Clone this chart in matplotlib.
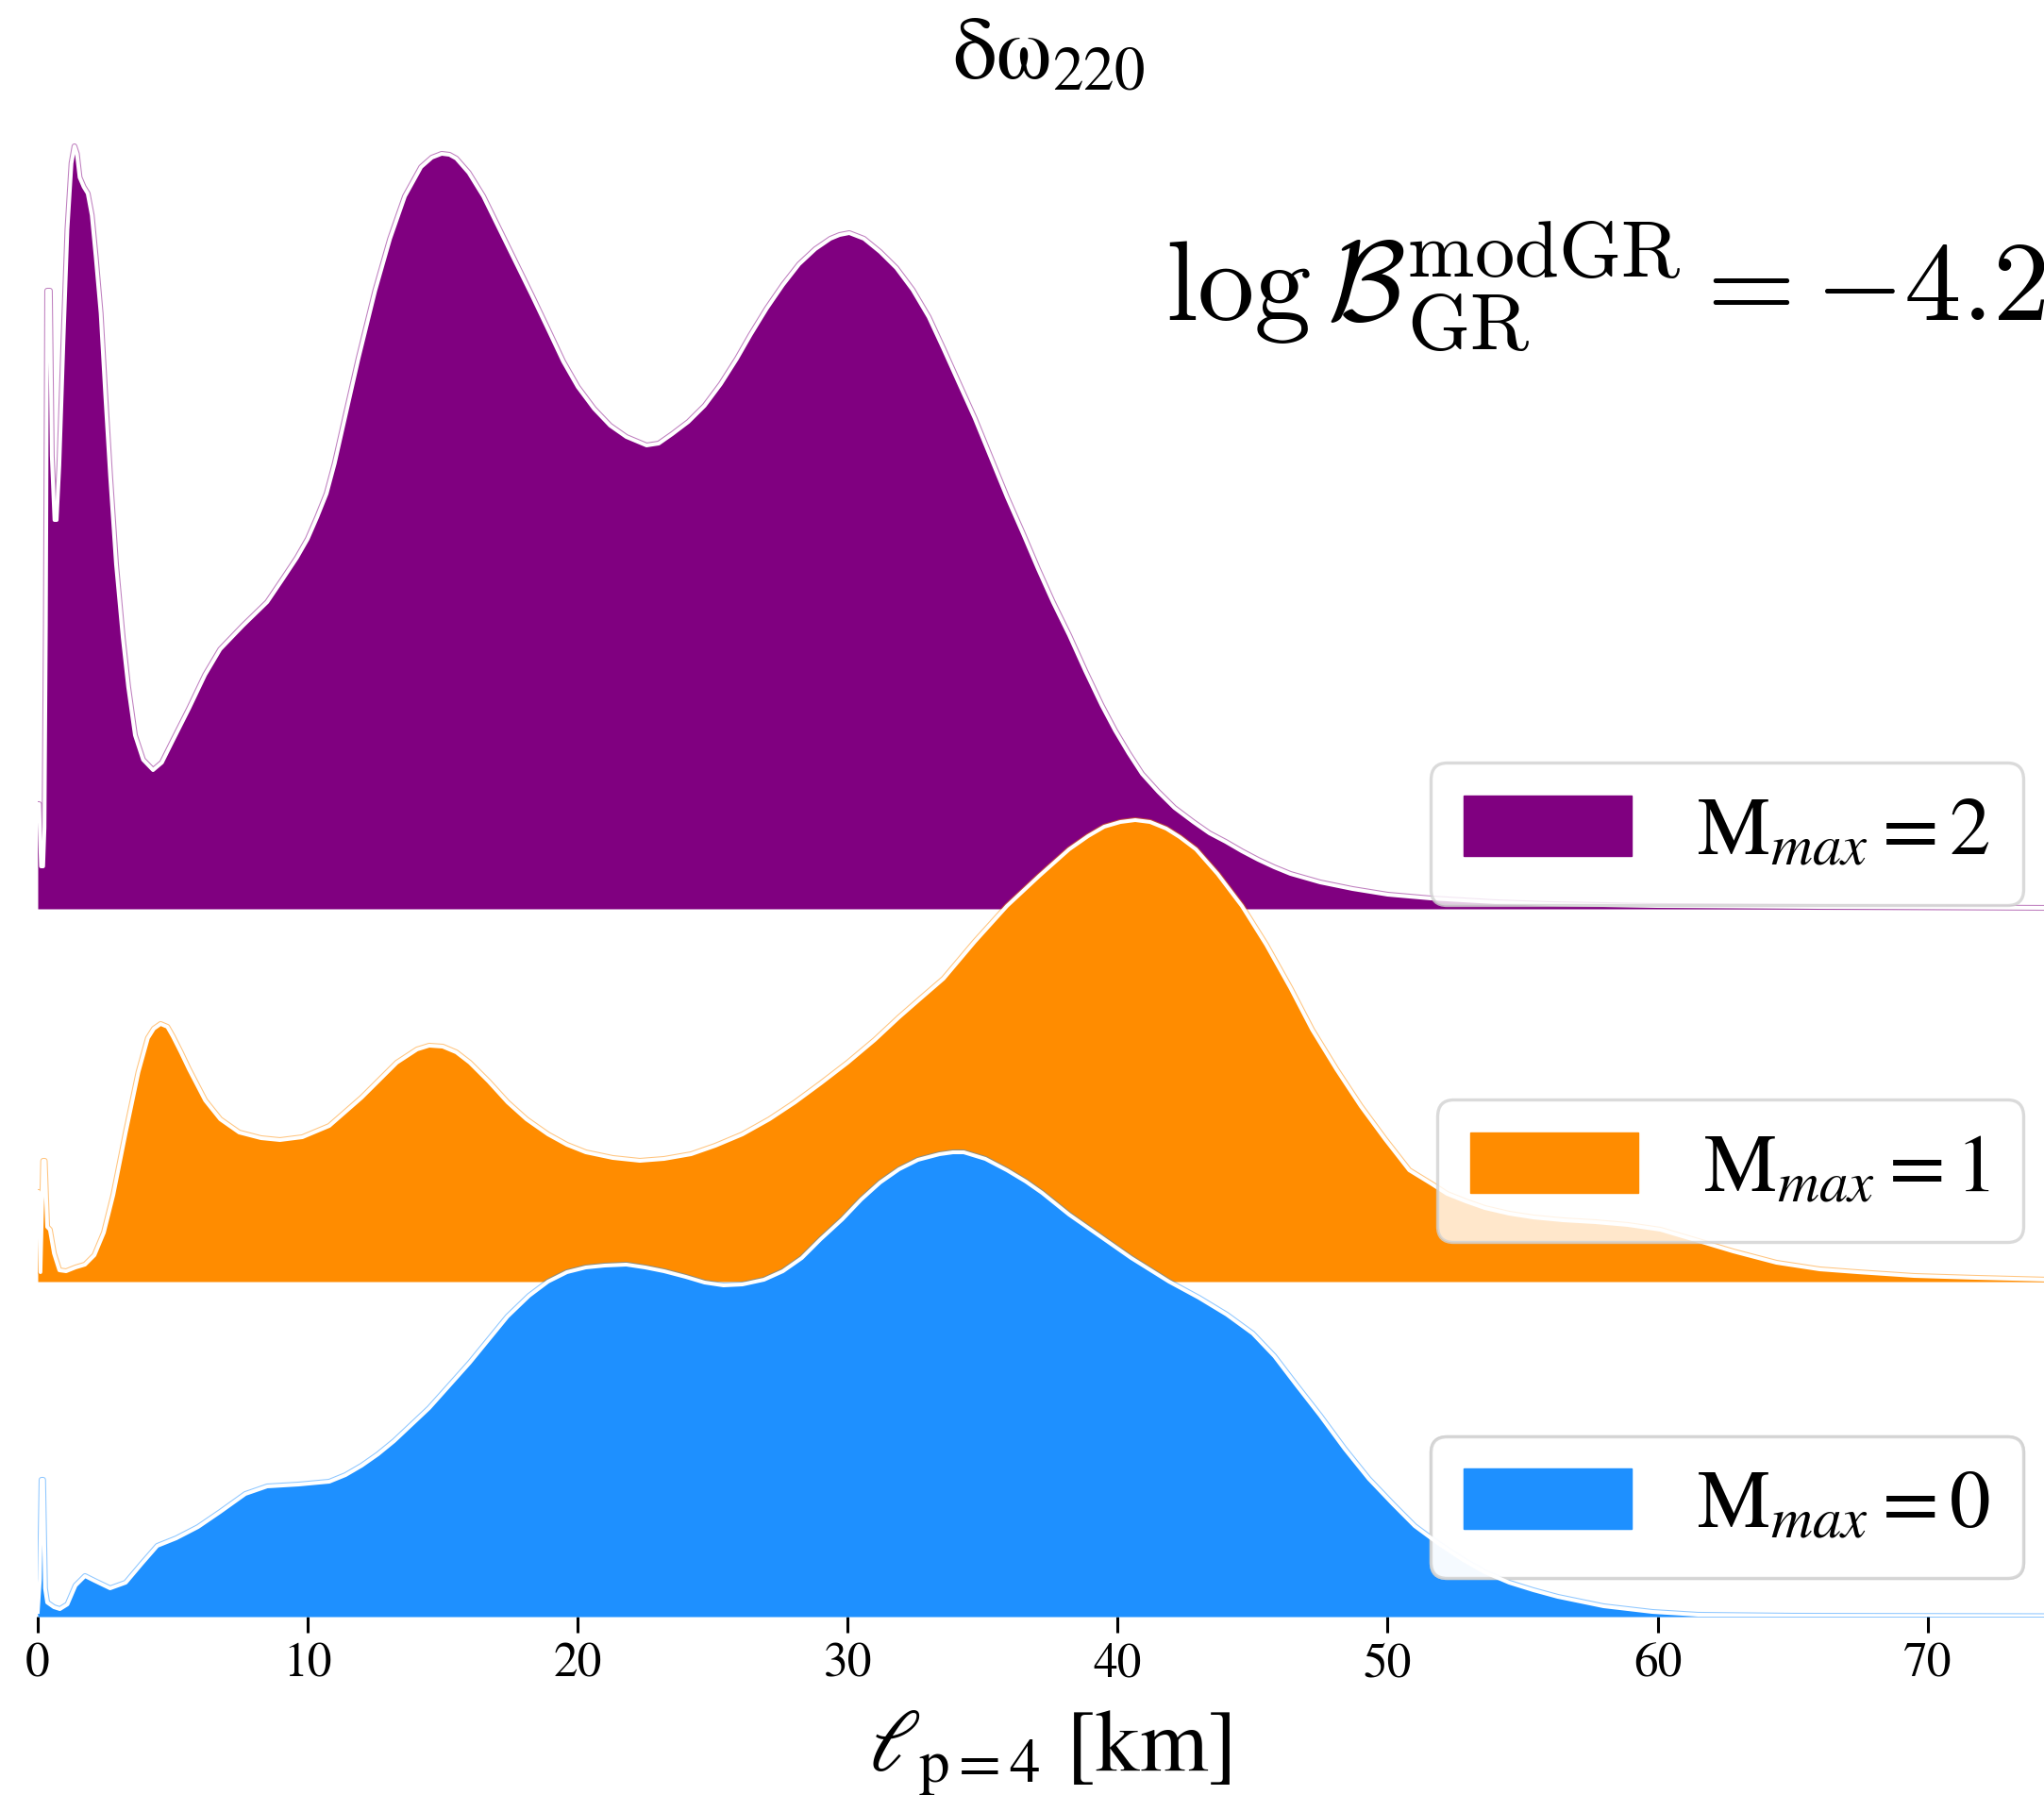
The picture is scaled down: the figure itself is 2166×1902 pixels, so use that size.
import matplotlib
matplotlib.use("Agg")
import matplotlib.pyplot as plt
from matplotlib.patches import Patch

plt.rcParams['font.family'] = ['STIXGeneral', 'DejaVu Serif']
plt.rcParams['mathtext.fontset'] = 'stix'

# posterior densities of l_{p=4} [km] (arbitrary units)
x_m2 = [0.0, 0.05, 0.12, 0.2, 0.25, 0.30, 0.35, 0.45, 0.52, 0.62, 0.70, 0.8, 0.95, 1.1, 1.25, 1.36, 1.45,
        1.55, 1.7, 1.85, 2.0, 2.15, 2.33, 2.5, 2.68, 2.9, 3.15, 3.35, 3.6, 3.9, 4.27, 4.6, 5.0, 5.6, 6.2,
        6.76, 7.6, 8.5, 9.09, 9.6, 10.0, 10.35, 10.7, 11.0, 11.3, 11.88, 12.5, 13.05, 13.6, 14.2, 14.6,
        14.96, 15.25, 15.5, 15.96, 16.5, 17.1, 17.7, 18.3, 18.9, 19.46, 20.0, 20.6, 21.2, 21.8, 22.55,
        23.0, 23.5, 24.1, 24.7, 25.3, 25.9, 26.4, 27.0, 27.6, 28.2, 28.8, 29.36, 29.7, 30.06, 30.6, 31.2,
        31.8, 32.4, 33.0, 33.55, 34.1, 34.7, 35.3, 35.9, 36.5, 37.05, 37.6, 38.2, 38.8, 39.4, 39.9, 40.4,
        40.9, 41.5, 42.1, 42.8, 43.4, 44.0, 44.6, 45.2, 45.8, 46.4, 47.5, 48.7, 50.0, 51.6, 54.0, 56.0,
        60.0, 66.0, 74.5]
y_m2 = [111, 111, 45, 45, 86, 300, 655, 655, 480, 412, 412, 470, 600, 720, 790, 808, 800,
        775, 765, 758, 735, 690, 631, 545, 459, 365, 287, 235, 184, 158, 147, 155, 178, 212, 248,
        275, 300, 325, 350, 372, 392, 415, 440, 472, 510, 583, 655, 710, 755, 786, 796,
        800, 799, 795, 780, 755, 720, 685, 650, 614, 580, 553, 530, 512, 500, 491,
        493, 503, 516, 533, 556, 583, 608, 636, 661, 683, 699, 710, 714, 716, 710, 696,
        679, 656, 627, 593, 558, 520, 478, 436, 397, 360, 325, 290, 252, 216, 189, 165,
        143, 124, 107, 92, 80, 71, 61, 52, 44, 37, 28, 21, 15, 11, 7, 5,
        3, 2, 1]

x_m1 = [0.0, 0.03, 0.1, 0.2, 0.26, 0.35, 0.45, 0.6, 0.8, 1.05, 1.4, 1.75, 2.1, 2.45, 2.8, 3.26, 3.73,
        4.08, 4.3, 4.55, 4.8, 5.0, 5.3, 5.6, 6.2, 6.76, 7.46, 8.27, 8.97, 9.8, 10.8, 12.0, 13.3, 14.05,
        14.5, 15.0, 15.5, 16.0, 16.7, 17.4, 18.1, 18.9, 19.6, 20.3, 21.3, 22.3, 23.2, 24.2, 25.1, 26.1,
        27.1, 28.05, 29.0, 30.0, 31.0, 31.9, 32.7, 33.55, 34.7, 35.9, 37.1, 38.2, 38.9, 39.5, 40.1, 40.65,
        41.2, 41.8, 42.3, 42.9, 43.7, 44.6, 45.5, 46.4, 47.2, 48.1, 49.0, 49.9, 50.8, 51.6, 52.2, 52.9,
        53.6, 54.5, 55.4, 56.5, 57.7, 58.9, 60.1, 61.4, 62.8, 64.4, 66.0, 67.4, 69.5, 71.8, 74.5]
y_m1 = [95, 95, 10, 128, 128, 58, 55, 30, 12, 11, 15, 18, 28, 52, 92, 158, 222,
        258, 268, 273, 270, 260, 243, 225, 192, 172, 158, 152, 150, 153, 165, 195, 232, 246,
        250, 249, 243, 232, 212, 190, 172, 156, 145, 137, 131, 128, 130, 135, 144, 156,
        172, 190, 210, 232, 256, 280, 300, 321, 360, 398, 430, 458, 472, 482, 487, 489,
        487, 480, 471, 458, 432, 398, 357, 311, 267, 225, 186, 151, 118, 104, 93, 85,
        78, 72, 68, 65, 63, 60, 55, 44, 32, 20, 13, 10, 6, 4, 2]

x_m0 = [0.0, 0.08, 0.14, 0.2, 0.27, 0.35, 0.6, 0.82, 1.1, 1.4, 1.75, 2.1, 2.68, 3.26, 3.85, 4.43, 5.13,
        5.94, 6.76, 7.69, 8.5, 9.67, 10.8, 11.4, 12.0, 12.6, 13.2, 14.5, 16.0, 17.4, 18.2, 18.9, 19.6,
        20.3, 21.0, 21.8, 22.5, 23.2, 24.0, 24.7, 25.4, 26.1, 26.9, 27.6, 28.3, 29.0, 29.8, 30.5, 31.2,
        31.9, 32.6, 33.4, 33.9, 34.3, 35.1, 35.9, 36.6, 37.2, 38.2, 39.4, 40.5, 41.9, 43.0, 44.04, 45.0,
        45.8, 46.6, 47.5, 48.4, 49.3, 50.2, 51.0, 51.9, 52.8, 53.6, 54.5, 55.4, 56.3, 58.0, 59.8, 61.5,
        65.0, 74.5]
y_m0 = [5, 40, 145, 145, 30, 15, 10, 8, 13, 33, 43, 38, 30, 36, 56, 75, 83,
        95, 111, 130, 138, 140, 143, 150, 160, 172, 186, 221, 269, 318, 340, 355, 365,
        370, 372, 373, 370, 366, 360, 354, 351, 352, 357, 366, 380, 400, 421, 442, 460,
        474, 484, 490, 492, 492, 485, 473, 461, 449, 426, 402, 380, 355, 338, 320, 300,
        276, 246, 213, 178, 146, 119, 96, 77, 60, 47, 36, 28, 21, 11, 5, 2,
        1, 0.5]

labels = [r'$\mathrm{M}_{max}=2$', r'$\mathrm{M}_{max}=1$', r'$\mathrm{M}_{max}=0$']
colors = ['purple', 'darkorange', 'dodgerblue']
offsets = [750, 355, 0]
legend_y = [0.4402, 0.2318, 0.0239]
title = 'δω$_{220}$'
bayes_text = r'$\log\mathcal{B}^{\rm modGR}_{\rm GR} = -4.2$'

W, H = 2166, 1902
fig = plt.figure(figsize=(W / 100, H / 100), dpi=100)
ax = fig.add_axes([40 / W, 189 / H, 1 - 40 / W, 1713 / H])
ax.set_xlim(0, 74.31)
ax.set_ylim(0, 1713)

series = [(x_m2, y_m2), (x_m1, y_m1), (x_m0, y_m0)]
for i, ((xs, ys), c, off) in enumerate(zip(series, colors, offsets)):
    top = [off + v for v in ys]
    ax.fill_between(xs, off, top, color=c, lw=0, zorder=1 + 2 * i)
    ax.plot(xs, top, color=c, lw=4.4, alpha=0.5, zorder=1 + 2 * i, solid_joinstyle='round')
    ax.plot(xs, top, color='white', lw=2.9, zorder=2 + 2 * i, solid_joinstyle='round')

# one legend per ridge
for lab, c, yl in zip(labels, colors, legend_y):
    leg = ax.legend(handles=[Patch(facecolor=c, edgecolor=c, label=lab)],
                    loc='lower right', bbox_to_anchor=(0.9897, yl), bbox_transform=ax.transAxes,
                    borderaxespad=0, fontsize=62.5, handlelength=2.05, handleheight=0.75,
                    fancybox=True, framealpha=0.8, edgecolor='0.82')
    leg.get_frame().set_linewidth(2.4)
    ax.add_artist(leg)

ax.text(41.77, 1373, bayes_text, fontsize=87, math_fontfamily='cm', ha='left', va='baseline')

ax.set_xticks(range(0, 80, 10))
ax.tick_params(axis='x', length=12.5, width=2.2, labelsize=37, pad=8)
ax.set_yticks([])
for s in ax.spines.values():
    s.set_visible(False)

fig.text(1111 / W, 1 - 83 / H, title, fontsize=67, ha='center', va='baseline')
fig.text(1112 / W, 1 - 1877 / H, r'$\ell_{\rm p=4}$ [km]', fontsize=67, ha='center', va='baseline')

fig.savefig('out.png', dpi=100)
